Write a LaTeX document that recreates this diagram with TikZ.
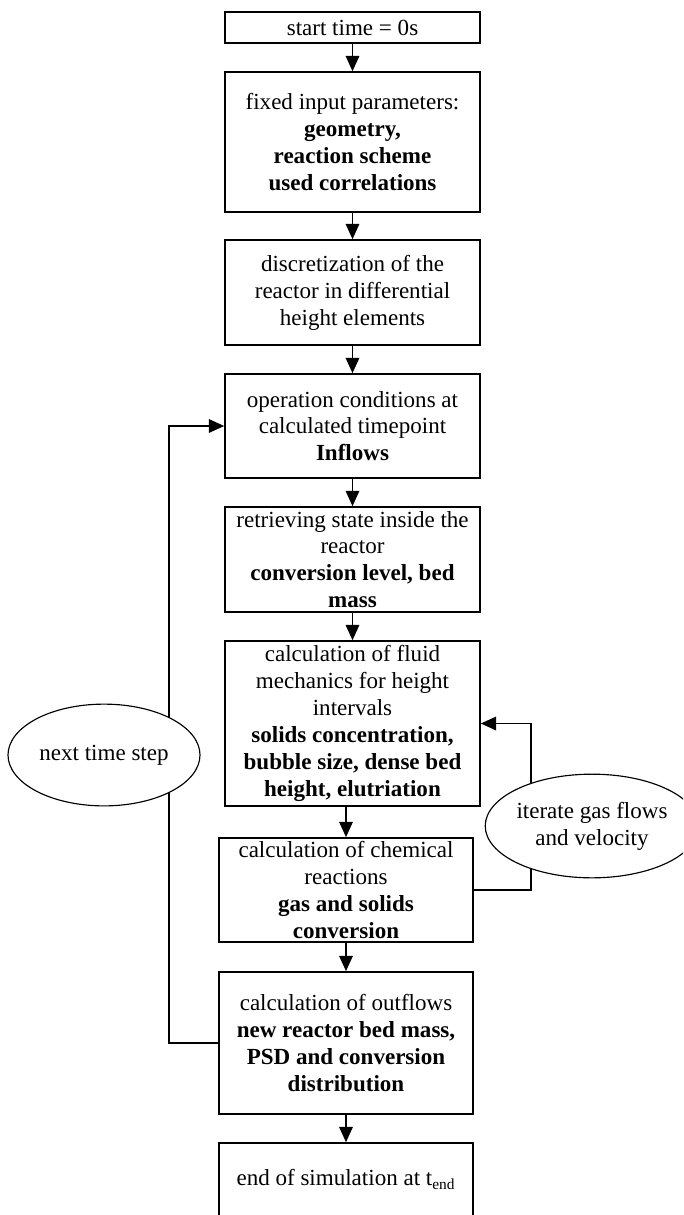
\documentclass[tikz,border=0pt]{standalone}
\usepackage{fontspec}
\setmainfont{Liberation Serif}
\usetikzlibrary{arrows.meta,shapes.geometric}
\begin{document}
\begin{tikzpicture}[x=0.5208pt,y=-0.5208pt,
  box/.style={draw,line width=0.8pt,align=center,inner sep=0pt,minimum width=132.8pt,font=\fontsize{12}{14}\selectfont},
  boxb/.style={box,minimum width=132.3pt},
  oval/.style={draw,ellipse,line width=0.6pt,fill=white,align=center,inner sep=0pt,font=\fontsize{12}{14}\selectfont},
  flow/.style={line width=1pt,-{Triangle[length=8pt,width=7pt]}},
  link/.style={line width=1pt}]
\useasboundingbox (0,0) rectangle (683,1215);
\clip (0,0) rectangle (683,1215);
\node[box,minimum height=16.1pt] (b1) at (352.5,27.5) {start time = 0s};
\node[box,minimum height=72.9pt] (b2) at (352.5,142) {fixed input parameters:\\\textbf{geometry,}\\\textbf{reaction scheme}\\\textbf{used correlations}};
\node[box,minimum height=54.7pt] (b3) at (352.5,292.5) {discretization of the\\reactor in differential\\height elements};
\node[box,minimum height=54.2pt] (b4) at (352.5,426) {operation conditions at\\calculated timepoint\\\textbf{Inflows}};
\node[box,minimum height=54.7pt] (b5) at (352.5,559.5) {retrieving state inside the\\reactor\\\textbf{conversion level, bed}\\\textbf{mass}};
\node[box,minimum height=85.9pt] (b6) at (352.5,723.5) {calculation of fluid\\mechanics for height\\intervals\\\textbf{solids concentration,}\\\textbf{bubble size, dense bed}\\\textbf{height, elutriation}};
\node[boxb,minimum height=54.2pt] (b7) at (346,890) {calculation of chemical\\reactions\\\textbf{gas and solids}\\\textbf{conversion}};
\node[boxb,minimum height=74pt] (b8) at (346,1043) {calculation of outflows\\\textbf{new reactor bed mass,}\\\textbf{PSD and conversion}\\\textbf{distribution}};
\node[boxb,minimum height=38pt] (b9) at (346,1179.5) {end of simulation at t\textsubscript{end}};
\draw[flow] (b1) -- (b2);
\draw[flow] (b2) -- (b3);
\draw[flow] (b3) -- (b4);
\draw[flow] (b4) -- (b5);
\draw[flow] (b5) -- (b6);
\draw[flow] (b7.north |- b6.south) -- (b7.north);
\draw[flow] (b7) -- (b8);
\draw[flow] (b8) -- (b9);
\coordinate (lx) at (169,0);
\coordinate (rx) at (531,0);
\draw[flow] (b8.west) -| (lx |- b4.west) -- (b4.west);
\draw[flow] (b7.east) -| (rx |- b6.east) -- (b6.east);
\node[oval,minimum width=100pt,minimum height=53pt] (nts) at (104,755) {next time step};
\node[oval,minimum width=97pt,minimum height=54pt] (igf) at (592,826) {iterate gas flows\\and velocity};
\end{tikzpicture}
\end{document}
